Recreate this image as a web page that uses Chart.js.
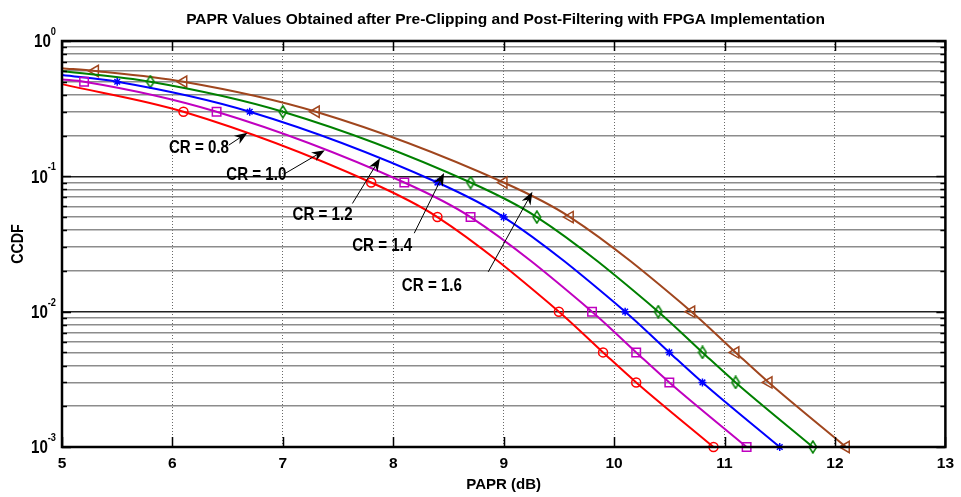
<!DOCTYPE html>
<html>
<head>
<meta charset="utf-8">
<title>PAPR CCDF</title>
<script src="https://cdn.jsdelivr.net/npm/chart.js@4.4.1/dist/chart.umd.min.js"></script>
<style>
  html, body { margin: 0; padding: 0; background: #fff; }
</style>
</head>
<body>
<canvas id="ccdfChart" width="961" height="497"></canvas>
<script>
const FONT = "'Liberation Sans', Arial, sans-serif";
const SQUEEZE = 0.84; // reference text is a narrow face

// axis ticks
const xTicks = [5, 6, 7, 8, 9, 10, 11, 12, 13];
const yTicks = [
  0.001, 0.002, 0.003, 0.004, 0.005, 0.006, 0.007, 0.008, 0.009,
  0.01, 0.02, 0.03, 0.04, 0.05, 0.06, 0.07, 0.08, 0.09,
  0.1, 0.2, 0.3, 0.4, 0.5, 0.6, 0.7, 0.8, 0.9, 1
];

// series (first point = where the curve starts at 5 dB, no marker there)
const seriesNames = ["CR = 0.8", "CR = 1.0", "CR = 1.2", "CR = 1.4", "CR = 1.6"];

const cr08X = [5, 6.1, 7.8, 8.4, 9.5, 9.9, 10.2, 10.9];
const cr08Y = [0.48, 0.30, 0.09, 0.05, 0.01, 0.005, 0.003, 0.001];

const cr10X = [5, 5.2, 6.4, 8.1, 8.7, 9.8, 10.2, 10.5, 11.2];
const cr10Y = [0.52, 0.50, 0.30, 0.09, 0.05, 0.01, 0.005, 0.003, 0.001];

const cr12X = [5, 5.5, 6.7, 8.4, 9.0, 10.1, 10.5, 10.8, 11.5];
const cr12Y = [0.56, 0.50, 0.30, 0.09, 0.05, 0.01, 0.005, 0.003, 0.001];

const cr14X = [5, 5.8, 7.0, 8.7, 9.3, 10.4, 10.8, 11.1, 11.8];
const cr14Y = [0.60, 0.50, 0.30, 0.09, 0.05, 0.01, 0.005, 0.003, 0.001];

const cr16X = [5, 5.3, 6.1, 7.3, 9.0, 9.6, 10.7, 11.1, 11.4, 12.1];
const cr16Y = [0.63, 0.60, 0.50, 0.30, 0.09, 0.05, 0.01, 0.005, 0.003, 0.001];

// callouts: label centre, arrow tail, arrow tip (data coordinates)
const calloutAt = [[6.24, 0.161], [6.76, 0.102], [7.36, 0.0516], [7.90, 0.0305], [8.35, 0.0154]];
const arrowFrom = [[6.51, 0.170], [7.02, 0.105], [7.63, 0.063], [8.19, 0.038], [8.86, 0.0197]];
const arrowTo = [[6.68, 0.21], [7.38, 0.156], [7.88, 0.136], [8.46, 0.106], [9.26, 0.077]];

// tall narrow diamond like the matlab 'd' marker
function diamondMarker(color) {
  const c = document.createElement("canvas");
  c.width = 10;
  c.height = 14;
  const g = c.getContext("2d");
  g.strokeStyle = color;
  g.lineWidth = 1.5;
  g.beginPath();
  g.moveTo(5, 1);
  g.lineTo(8.8, 7);
  g.lineTo(5, 13);
  g.lineTo(1.2, 7);
  g.closePath();
  g.stroke();
  return c;
}

function curve(label, xs, ys, color, style, radius, rotation) {
  return {
    label,
    data: xs.map((x, i) => ({ x, y: ys[i] })),
    borderColor: color,
    backgroundColor: "transparent",
    borderWidth: 2,
    pointStyle: style,
    pointRotation: rotation || 0,
    pointRadius: (c) => (c.dataIndex === 0 ? 0 : radius),
    pointBorderColor: color,
    pointBackgroundColor: "transparent",
    pointBorderWidth: 1.5,
    cubicInterpolationMode: "monotone",
    clip: false,
  };
}

const isDecade = (v) => Math.abs(Math.log10(v) - Math.round(Math.log10(v))) < 1e-6;

// text squeezed horizontally (align is kept)
function narrowText(ctx, text, x, y) {
  ctx.save();
  ctx.translate(x, y);
  ctx.scale(SQUEEZE, 1);
  ctx.fillText(text, 0, 0);
  ctx.restore();
}

// ==================================
// frame, inner ticks, y labels, callouts
// ==================================
const matlabFrame = {
  id: "matlabFrame",
  afterDraw(chart) {
    const { ctx, chartArea: a, scales } = chart;
    const xs = scales.x, ys = scales.y;
    ctx.save();

    // inner tick marks
    ctx.strokeStyle = "#000";
    ctx.lineWidth = 1.5;
    ctx.beginPath();
    xTicks.forEach((v) => {
      const px = Math.round(xs.getPixelForValue(v)) + 0.5;
      ctx.moveTo(px, a.bottom); ctx.lineTo(px, a.bottom - 10);
      ctx.moveTo(px, a.top); ctx.lineTo(px, a.top + 10);
    });
    yTicks.forEach((v) => {
      const py = Math.round(ys.getPixelForValue(v)) + 0.5;
      const len = isDecade(v) ? 9 : 5;
      ctx.moveTo(a.left, py); ctx.lineTo(a.left + len, py);
      ctx.moveTo(a.right, py); ctx.lineTo(a.right - len, py);
    });
    ctx.stroke();

    // box
    ctx.lineWidth = 2.5;
    ctx.strokeRect(a.left, a.top, a.right - a.left, a.bottom - a.top);

    // y labels 10^n
    ctx.fillStyle = "#000";
    ctx.textBaseline = "middle";
    yTicks.filter(isDecade).forEach((v) => {
      const py = ys.getPixelForValue(v);
      const ex = String(Math.round(Math.log10(v)));
      ctx.font = "bold 11px " + FONT;
      const we = ctx.measureText(ex).width * SQUEEZE;
      const right = a.left - 6;
      ctx.textAlign = "left";
      narrowText(ctx, ex, right - we, py - 9);
      ctx.font = "bold 18px " + FONT;
      ctx.textAlign = "right";
      narrowText(ctx, "10", right - we, py + 1.5);
    });

    // y axis title
    ctx.save();
    ctx.translate(18, (a.top + a.bottom) / 2);
    ctx.rotate(-Math.PI / 2);
    ctx.font = "bold 17px " + FONT;
    ctx.textAlign = "center";
    ctx.textBaseline = "middle";
    ctx.scale(SQUEEZE, 1);
    ctx.fillText("CCDF", 0, 0);
    ctx.restore();

    // callouts with arrows
    ctx.font = "bold 18px " + FONT;
    ctx.textAlign = "center";
    ctx.textBaseline = "middle";
    seriesNames.forEach((name, i) => {
      narrowText(ctx, name, xs.getPixelForValue(calloutAt[i][0]), ys.getPixelForValue(calloutAt[i][1]));

      const x0 = xs.getPixelForValue(arrowFrom[i][0]), y0 = ys.getPixelForValue(arrowFrom[i][1]);
      const x1 = xs.getPixelForValue(arrowTo[i][0]), y1 = ys.getPixelForValue(arrowTo[i][1]);
      const ang = Math.atan2(y1 - y0, x1 - x0);
      ctx.lineWidth = 1;
      ctx.beginPath();
      ctx.moveTo(x0, y0);
      ctx.lineTo(x1 - 6 * Math.cos(ang), y1 - 6 * Math.sin(ang));
      ctx.stroke();
      // barbed head
      const L = 13, W = 5;
      const bx = x1 - L * Math.cos(ang), by = y1 - L * Math.sin(ang);
      const nx = x1 - 0.7 * L * Math.cos(ang), ny = y1 - 0.7 * L * Math.sin(ang);
      ctx.beginPath();
      ctx.moveTo(x1, y1);
      ctx.lineTo(bx + W * Math.sin(ang), by - W * Math.cos(ang));
      ctx.lineTo(nx, ny);
      ctx.lineTo(bx - W * Math.sin(ang), by + W * Math.cos(ang));
      ctx.closePath();
      ctx.fill();
    });

    ctx.restore();
  },
};

new Chart(document.getElementById("ccdfChart"), {
  type: "line",
  data: {
    datasets: [
      curve(seriesNames[0], cr08X, cr08Y, "#ff0000", "circle", 4.5),
      curve(seriesNames[1], cr10X, cr10Y, "#c000c0", "rect", 6),
      curve(seriesNames[2], cr12X, cr12Y, "#0000ff", "star", 4),
      curve(seriesNames[3], cr14X, cr14Y, "#008000", diamondMarker("#008000"), 6),
      curve(seriesNames[4], cr16X, cr16Y, "#a0461e", "triangle", 6.5, -90),
    ],
  },
  options: {
    responsive: false,
    animation: false,
    layout: { padding: { left: 50, right: 0, top: 0, bottom: 0 } },
    plugins: {
      legend: { display: false },
      tooltip: { enabled: false },
      title: {
        display: true,
        text: "PAPR Values Obtained after Pre-Clipping and Post-Filtering with FPGA Implementation",
        color: "#000",
        font: { family: FONT, size: 15.5, weight: "bold" },
        padding: { top: 10, bottom: 12.4 },
      },
    },
    scales: {
      x: {
        type: "linear",
        min: 5,
        max: 13,
        afterBuildTicks: (s) => { s.ticks = xTicks.map((v) => ({ value: v })); },
        afterFit: (s) => { s.height = 50; },
        grid: { color: "#6a6a6a", lineWidth: 1, drawTicks: false },
        border: { display: false, dash: [1, 2] },
        ticks: {
          color: "#000",
          font: { family: FONT, size: 15.5, weight: "bold" },
          padding: 7,
          autoSkip: false,
          maxRotation: 0,
        },
        title: {
          display: true,
          text: "PAPR (dB)",
          color: "#000",
          font: { family: FONT, size: 15, weight: "bold" },
          padding: { top: 0, bottom: 3 },
        },
      },
      y: {
        type: "logarithmic",
        min: 0.001,
        max: 1,
        afterBuildTicks: (s) => { s.ticks = yTicks.map((v) => ({ value: v })); },
        afterFit: (s) => { s.width = 12; },
        grid: {
          color: (c) => (c.tick && isDecade(c.tick.value) ? "#222" : "#8c8c8c"),
          lineWidth: 1.6,
          drawTicks: false,
        },
        border: { display: false },
        ticks: { display: false },
      },
      // empty right-hand strip so the plot ends at 951 px
      yRight: {
        type: "linear",
        position: "right",
        afterFit: (s) => { s.width = 10; },
        grid: { display: false },
        border: { display: false },
        ticks: { display: false },
      },
    },
  },
  plugins: [matlabFrame],
});
</script>
</body>
</html>
